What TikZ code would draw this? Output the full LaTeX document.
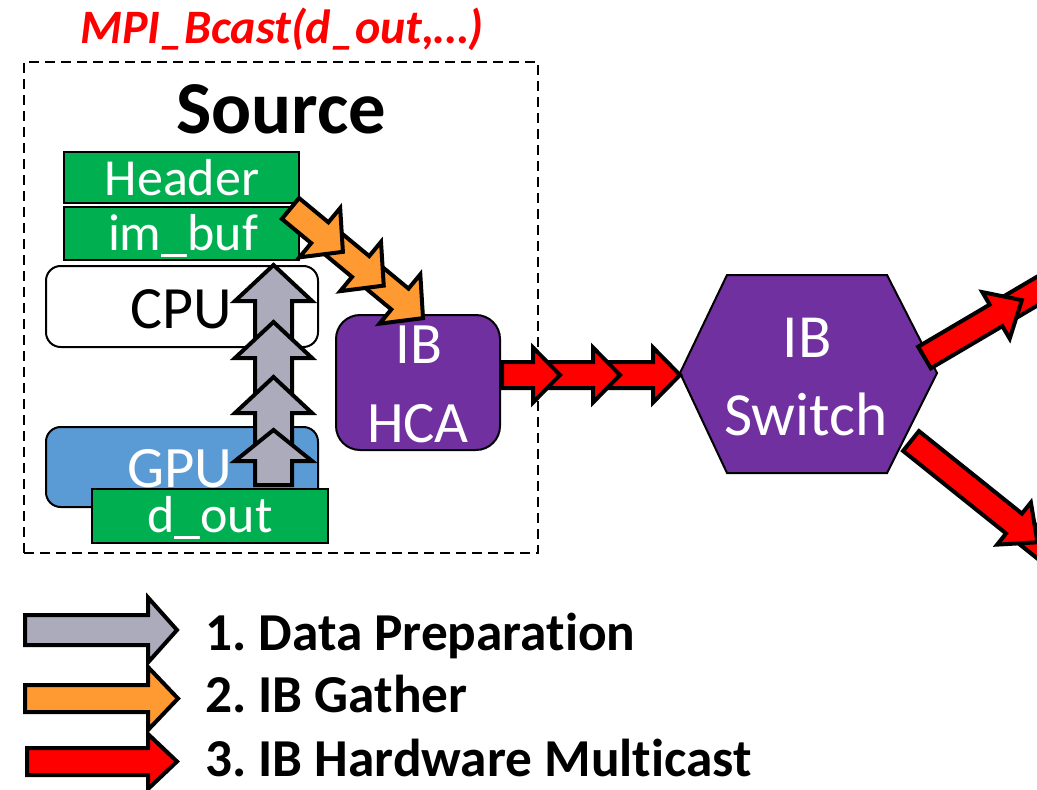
\documentclass[tikz,border=0pt]{standalone}
\usepackage{fontspec}
\setmainfont[Ligatures=NoCommon]{Carlito}
\frenchspacing

\definecolor{boxgreen}{HTML}{00B050}
\definecolor{gpublue}{HTML}{5B9BD5}
\definecolor{ibpurple}{HTML}{7030A0}
\definecolor{prepgray}{HTML}{ABABBB}
\definecolor{gathorange}{HTML}{FF9A33}
\definecolor{mcastred}{HTML}{FF0000}

% block arrow along an axis: #1 axis origin, #2 axis angle, #3 tail offset,
% #4 tip offset, #5 head length, #6 shaft half width, #7 head half width, #8 fill
\newcommand\blockarrow[8]{%
  \begin{scope}[shift={(#1)}, rotate=#2]
    \draw[arrowline, fill=#8]
      (#3,-#6) -- ({#4-#5},-#6) -- ({#4-#5},-#7) -- (#4,0)
      -- ({#4-#5},#7) -- ({#4-#5},#6) -- (#3,#6) -- cycle;
  \end{scope}}

\begin{document}
\begin{tikzpicture}[x=0.75pt, y=-0.75pt,
  arrowline/.style={draw=black, line width=3pt, line join=miter, miter limit=10},
  bufbox/.style={draw=black, line width=1.5pt, fill=boxgreen, inner sep=0pt,
    minimum width=176pt, minimum height=38pt},
  unitbox/.style={draw=black, line width=1.5pt, rounded corners=11pt, inner sep=0pt},
  lbl/.style={inner sep=0pt, anchor=base},
  whitelbl/.style={lbl, text=white},
  legendlbl/.style={inner sep=0pt, anchor=base west, font=\fontsize{40}{46}\selectfont\bfseries},
]
\useasboundingbox (0,0) rectangle (1037,789);
\clip (0,0) rectangle (1037,789);

% caption above the source node
\node[lbl, text=mcastred, font=\fontsize{36}{42}\selectfont\bfseries\itshape]
  (call) at (282,43) {MPI\_Bcast(d\_out,…)};

% source node frame
\node[draw=black, line width=1.5pt, dash pattern=on 7.5pt off 4.5pt,
  minimum width=385.5pt, minimum height=368.25pt, inner sep=0pt]
  (source) at (281,307.5) {};
\node[lbl, font=\fontsize{56}{64}\selectfont\bfseries] (sourceT) at (281,133) {Source};

% host buffers
\node[bufbox] (header) at (181.5,177.5) {};
\node[whitelbl, font=\fontsize{39}{45}\selectfont] (headerT) at (182,195) {Header};
\node[bufbox, minimum height=39.75pt] (imbuf) at (181.5,233.5) {};
\node[whitelbl, font=\fontsize{39}{45}\selectfont] (imbufT) at (183,250) {im\_buf};

% CPU and GPU
\node[unitbox, fill=white, minimum width=204pt, minimum height=60.75pt] (cpu) at (182,306.5) {};
\node[lbl, font=\fontsize{45}{52}\selectfont] (cpuT) at (181,328) {CPU};
\node[unitbox, fill=gpublue, minimum width=204pt, minimum height=60pt] (gpu) at (182,467) {};
\node[whitelbl, font=\fontsize{44}{52}\selectfont] (gpuT) at (180,487) {GPU};

% host channel adapter
\node[unitbox, fill=ibpurple, rounded corners=18pt, minimum width=123pt, minimum height=101.25pt]
  (hca) at (418,382.5) {};
\node[whitelbl, font=\fontsize{44}{52}\selectfont] (hcaT1) at (419,363) {IB};
\node[whitelbl, font=\fontsize{44}{52}\selectfont] (hcaT2) at (418,442) {HCA};

% switch
\path[draw=black, line width=1.5pt, fill=ibpurple]
  (680,373) -- (727,275) -- (887,275) -- (937,373) -- (887,473) -- (727,473) -- cycle;
\node[inner sep=0pt, minimum size=1pt] (switch) at (808.5,374) {};
\node[whitelbl, font=\fontsize{46}{54}\selectfont] (swT1) at (807,357) {IB};
\node[whitelbl, font=\fontsize{46}{54}\selectfont] (swT2) at (806,435) {Switch};

% step 1: GPU to host staging buffer (axis runs upwards from the device buffer)
\coordinate (p0) at (273.5,485);
\blockarrow{p0}{90}{145}{220}{36}{18.5}{38.5}{prepgray}
\blockarrow{p0}{90}{90}{163}{36}{18.5}{38.5}{prepgray}
\blockarrow{p0}{90}{35}{108}{36}{18.5}{38.5}{prepgray}
\blockarrow{p0}{90}{0}{55}{31}{18.5}{38.5}{prepgray}

% device buffer
\node[bufbox, minimum width=177pt, minimum height=40.5pt] (dout) at (210,516) {};
\node[whitelbl, font=\fontsize{39}{45}\selectfont] (doutT) at (210,532) {d\_out};

% step 2: gather into the adapter
\coordinate (g0) at (290.5,208.5);
\blockarrow{g0}{-39.6}{108}{172}{30}{13.5}{32}{gathorange}
\blockarrow{g0}{-39.6}{55}{121}{30}{13.5}{32}{gathorange}
\blockarrow{g0}{-39.6}{0}{68}{30}{13.5}{32}{gathorange}

% step 3: multicast out of the adapter and through the switch
\coordinate (r0) at (502,375);
\blockarrow{r0}{0}{103}{178}{27}{13}{27.5}{mcastred}
\blockarrow{r0}{0}{43}{118}{27}{13}{27.5}{mcastred}
\blockarrow{r0}{0}{0}{58}{27}{13}{27.5}{mcastred}

\coordinate (u0) at (924.5,357.5);
\blockarrow{u0}{30.5}{95}{260}{30}{12.5}{27}{mcastred}
\blockarrow{u0}{30.5}{0}{113}{30}{12.5}{27}{mcastred}

\coordinate (d0) at (911,441);
\blockarrow{d0}{-38.7}{148}{300}{30}{12.7}{27}{mcastred}
\blockarrow{d0}{-38.7}{0}{162}{30}{12.7}{27}{mcastred}

% legend
\blockarrow{25,630}{0}{0}{152}{29}{15}{32.5}{prepgray}
\blockarrow{25,698.5}{0}{0}{153}{30}{13.5}{31.5}{gathorange}
\blockarrow{27,761.5}{0}{0}{150}{29}{13.5}{27.5}{mcastred}
\node[legendlbl] (leg1) at (205,650) {1. Data Preparation};
\node[legendlbl] (leg2) at (205,712) {2. IB Gather};
\node[legendlbl] (leg3) at (205,776) {3. IB Hardware Multicast};
\end{tikzpicture}
\end{document}
